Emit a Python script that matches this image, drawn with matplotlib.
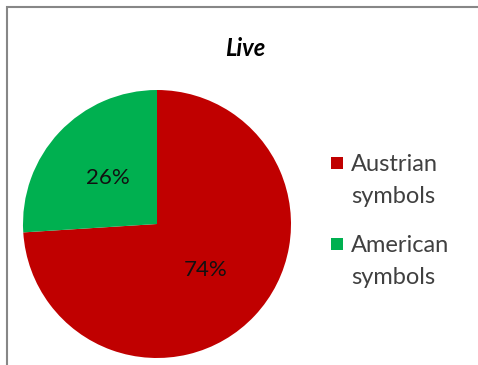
import matplotlib.pyplot as plt
from matplotlib.patches import Rectangle

labels = ["Austrian\nsymbols", "American\nsymbols"]
values = [74, 26]
colors = ["#C00000", "#00B050"]

plt.rcParams['font.family'] = ['Lato', 'DejaVu Sans']

fig = plt.figure(figsize=(4.78, 3.65), dpi=100)
W, H = 478, 365

# outer chart frame (only left and top edges visible in the crop)
fig.patches.append(Rectangle((7 / W, -0.2), 1.2, 1.2 - 7 / H,
                             transform=fig.transFigure, fill=False,
                             edgecolor="#878787", linewidth=1.5))

ax = fig.add_axes([23 / W, 7 / H, 268 / W, 268 / H])
wedges, texts, autotexts = ax.pie(values, colors=colors, startangle=90,
                                  counterclock=False, autopct="%d%%",
                                  pctdistance=0.5, radius=1,
                                  textprops={"fontsize": 16, "color": "#111111"})
ax.set_xlim(-1, 1)
ax.set_ylim(-1, 1)
ax.set_aspect("equal")

fig.text(245 / W, 1 - 48 / H, "Live", ha="center", va="center",
         fontsize=17, fontweight="bold", fontstyle="italic")

# legend drawn by hand: square aligned with first line of the label
for i, (lab, col) in enumerate(zip(labels, colors)):
    y0 = 164 + i * 81
    fig.patches.append(Rectangle((331 / W, 1 - (y0 + 5) / H), 12 / W, 12 / H,
                                 transform=fig.transFigure,
                                 facecolor=col, edgecolor="none"))
    fig.text(351 / W, 1 - (y0 - 10) / H, lab, ha="left", va="top",
             fontsize=17, color="#404040", linespacing=1.65)

fig.savefig("out.png", dpi=100)
